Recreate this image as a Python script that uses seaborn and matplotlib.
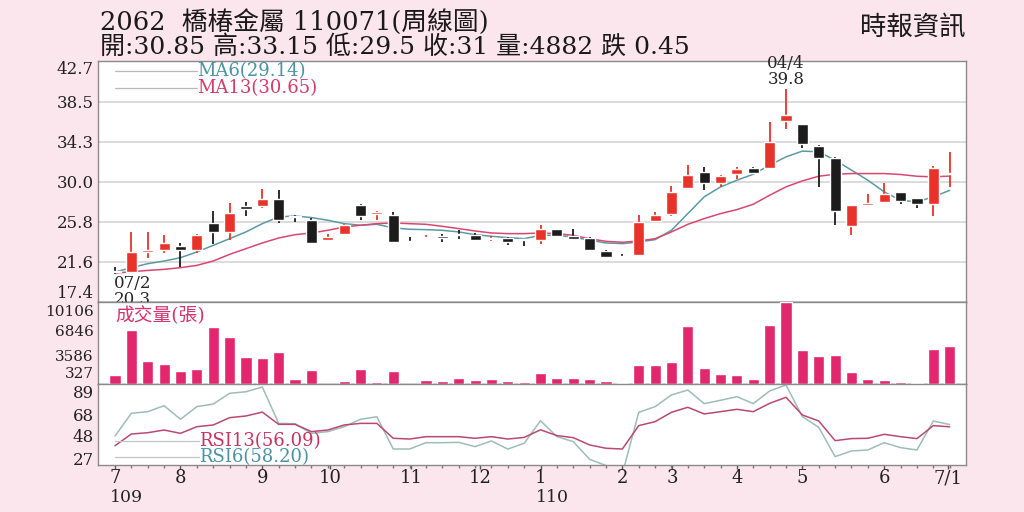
import numpy as np
import pandas as pd
import seaborn as sns
import matplotlib.pyplot as plt
import matplotlib.transforms as mtransforms

# weekly candles 109/07 ~ 110/07
opens = [20.65, 20.55, 22.70, 22.90, 23.25, 22.83, 25.75, 24.77, 27.47, 27.47,
         28.28, 26.40, 26.00, 23.96, 24.52, 27.58, 26.63, 26.59, 23.78, 24.10,
         24.24, 24.52, 24.49, 24.03, 24.13, 23.96, 23.89, 25.12, 24.34, 24.13,
         22.73, 22.20, 22.38, 25.89, 26.63, 29.40, 31.06, 29.93, 30.84, 31.51,
         31.51, 36.47, 36.08, 33.83, 32.57, 25.36, 27.65, 27.93, 28.98, 28.35,
         27.68, 30.85]
highs = [21.10, 24.77, 24.77, 24.41, 23.61, 24.59, 26.98, 27.82, 27.93, 29.33,
         29.23, 26.60, 26.20, 24.52, 25.65, 27.68, 26.94, 26.84, 24.24, 24.49,
         24.60, 24.94, 24.66, 24.35, 24.24, 23.96, 25.47, 25.12, 25.12, 24.24,
         22.90, 22.40, 26.52, 26.87, 29.58, 31.79, 31.62, 30.81, 31.62, 31.62,
         36.36, 39.80, 36.08, 33.90, 32.67, 27.65, 28.74, 29.93, 28.98, 28.35,
         31.72, 33.15]
lows = [20.30, 20.45, 22.06, 22.55, 21.08, 22.59, 23.54, 23.89, 26.45, 27.33,
        25.71, 25.80, 23.60, 23.82, 24.41, 26.00, 26.00, 23.60, 23.70, 23.99,
        23.70, 24.06, 23.89, 23.82, 23.36, 23.26, 23.47, 24.24, 23.96, 22.76,
        22.06, 22.02, 22.30, 25.82, 26.42, 29.33, 29.16, 29.51, 30.39, 30.91,
        31.44, 35.55, 33.62, 29.51, 25.54, 24.41, 27.58, 27.86, 27.75, 27.33,
        26.45, 29.50]
closes = [20.55, 22.66, 22.90, 23.61, 22.83, 24.41, 24.77, 26.77, 27.19, 28.28,
          26.07, 26.30, 23.64, 24.24, 25.47, 26.45, 26.84, 23.71, 23.73, 24.24,
          24.17, 24.45, 23.96, 24.17, 23.71, 23.89, 25.12, 24.34, 24.03, 22.83,
          22.13, 22.13, 25.82, 26.52, 28.98, 30.81, 29.93, 30.63, 31.34, 30.98,
          34.25, 37.06, 33.97, 32.57, 26.94, 27.65, 27.86, 28.74, 28.03, 27.68,
          31.45, 31.00]

ma6 = [20.55, 21.01, 21.43, 21.71, 22.06, 22.66, 23.36, 24.06, 24.77, 25.64,
       26.35, 26.45, 26.28, 26.00, 25.64, 25.47, 25.57, 25.19, 25.05, 25.01,
       24.94, 24.77, 24.48, 24.31, 24.17, 24.06, 24.41, 24.41, 24.24, 23.89,
       23.61, 23.54, 23.71, 23.96, 24.94, 26.70, 28.46, 29.51, 30.21, 30.84,
       31.79, 32.67, 33.27, 33.20, 32.32, 31.27, 30.21, 28.98, 28.10, 27.93,
       28.46, 29.14]
ma13 = [20.44, 20.58, 20.72, 20.83, 21.01, 21.25, 21.71, 22.41, 23.01, 23.61,
        24.13, 24.48, 24.66, 24.94, 25.29, 25.47, 25.64, 25.71, 25.64, 25.57,
        25.36, 25.12, 24.87, 24.66, 24.59, 24.59, 24.66, 24.59, 24.41, 24.06,
        23.78, 23.68, 23.82, 24.06, 24.77, 25.57, 26.17, 26.70, 27.12, 27.68,
        28.63, 29.51, 30.14, 30.63, 30.84, 30.91, 30.91, 30.91, 30.81, 30.63,
        30.56, 30.65]

volume = [1110, 6870, 2944, 2517, 1664, 1963, 7253, 6059, 3456, 3285,
          4096, 597, 1792, 20, 427, 1877, 299, 1621, 40, 512,
          427, 768, 512, 683, 384, 213, 1408, 725, 768, 597,
          384, 128, 2432, 2432, 2773, 7467, 2091, 1323, 1152, 597,
          7509, 10450, 4352, 3627, 3755, 1493, 683, 555, 299, 128,
          4480, 4882]

rsi6 = [47.5, 68.7, 70.2, 75.8, 63.1, 74.9, 77.3, 87.3, 88.8, 93.2,
        59.3, 59.0, 50.0, 51.6, 56.2, 63.1, 65.5, 35.4, 35.4, 41.3,
        41.3, 41.6, 37.6, 42.9, 35.4, 40.7, 61.8, 46.9, 42.3, 25.8,
        20.0, 12.0, 69.6, 74.9, 85.8, 90.4, 77.7, 80.8, 84.2, 77.7,
        89.5, 95.1, 65.6, 55.6, 28.3, 33.6, 34.5, 41.3, 36.7, 34.5,
        61.5, 58.2]
rsi13 = [38.5, 49.4, 50.6, 53.1, 50.0, 56.2, 57.8, 64.6, 66.2, 69.8,
         58.4, 58.4, 51.6, 53.1, 57.8, 59.3, 59.3, 45.4, 44.7, 46.9,
         46.9, 46.9, 45.4, 46.9, 44.7, 46.2, 53.3, 47.9, 46.0, 39.2,
         36.1, 35.4, 57.2, 60.9, 69.6, 74.3, 68.1, 70.2, 72.4, 70.2,
         78.0, 83.6, 67.1, 61.5, 43.2, 45.1, 45.4, 49.1, 46.9, 45.1,
         57.2, 56.09]

price_ticks = [17.4, 21.62, 25.83, 30.05, 34.27, 38.48, 42.7]
price_labels = ["17.4", "21.6", "25.8", "30.0", "34.3", "38.5", "42.7"]
vol_ticks = [327, 3586, 6846, 10106]
rsi_ticks = [27, 48, 68, 89]
month_pos = [0, 4, 9, 13.15, 18.1, 22.3, 26, 31, 34.05, 38, 42, 47, 50.9]
month_labels = ["7", "8", "9", "10", "11", "12", "1", "2", "3", "4", "5", "6", "7/1"]

df = pd.DataFrame({"idx": np.arange(len(closes)), "open": opens, "high": highs,
                   "low": lows, "close": closes, "ma6": ma6, "ma13": ma13,
                   "vol": volume, "rsi6": rsi6, "rsi13": rsi13})

sns.set_theme(style="white")
plt.rcParams['font.family'] = ['DejaVu Serif', 'Noto Sans CJK TC']

bg = '#fce6ee'
red = '#e8332a'
blk = '#1c1c1c'
pink = '#e2276e'
frame = '#8a8a8a'

fig = plt.figure(figsize=(10.24, 5.12), dpi=100, facecolor=bg)
ax1 = fig.add_axes([0.0957, 0.4102, 0.8477, 0.4697])
ax2 = fig.add_axes([0.0957, 0.2500, 0.8477, 0.1602], sharex=ax1)
ax3 = fig.add_axes([0.0957, 0.0918, 0.8477, 0.1582], sharex=ax1)

# candles
up = df.close >= df.open
cols = np.where(up, red, blk)
ax1.vlines(df.idx, df.low, df.high, colors=cols, lw=1.3, zorder=3)
body_lo = np.minimum(df.open, df.close)
body_h = np.maximum(np.abs(df.close - df.open), 0.12)
ax1.bar(df.idx, body_h, bottom=body_lo, width=0.68, color=cols, zorder=4)

sns.lineplot(data=df, x="idx", y="ma6", ax=ax1, color='#5a9aa5', lw=1.1, zorder=2)
sns.lineplot(data=df, x="idx", y="ma13", ax=ax1, color='#d9476f', lw=1.1, zorder=2)

ax1.set_ylim(17.4, 42.7)
ax1.set_yticks(price_ticks)
ax1.set_yticklabels(price_labels)
ax1.grid(axis='y', color='#dcdcdc', lw=1.4)
ax1.grid(axis='x', visible=False)

# legend-like labels
for yy, txt, c in [(0.9605, "MA6(29.14)", '#4b93a3'), (0.8898, "MA13(30.65)", '#d43a6a')]:
    ax1.plot([0.0196, 0.114], [yy, yy], transform=ax1.transAxes, color='#b8b8b8', lw=0.9)
    ax1.text(0.114, yy, txt, transform=ax1.transAxes, color=c, fontsize=13, va='center')

imax = int(np.argmax(highs))
ax1.text(imax, max(highs) + 0.1, "04/4\n39.8", ha='center', va='bottom', fontsize=12,
         linespacing=0.95, clip_on=False, zorder=6)
imin = int(np.argmin(lows))
ax1.text(imin - 0.1, min(lows) - 0.1, "07/2\n20.3", ha='left', va='top', fontsize=12,
         linespacing=0.9, clip_on=False, zorder=6)

# volume
sns.barplot(data=df, x="idx", y="vol", ax=ax2, native_scale=True, width=0.68,
            color=pink, saturation=1, zorder=3)
ax2.set_ylim(0, 10500)
ax2.set_yticks(vol_ticks)
ax2.set_yticklabels([str(v) for v in vol_ticks])
ax2.text(0.0196, 0.83, "成交量(張)", transform=ax2.transAxes, color='#d6336c',
         fontsize=13.5, va='center', family=['DejaVu Serif', 'Noto Sans CJK TC'])

# rsi
sns.lineplot(data=df, x="idx", y="rsi6", ax=ax3, color='#9dbdb8', lw=1.1)
sns.lineplot(data=df, x="idx", y="rsi13", ax=ax3, color='#b94a6e', lw=1.1)
ax3.set_ylim(20.5, 96)
ax3.set_yticks(rsi_ticks)
for yy, txt, c in [(0.30, "RSI13(56.09)", '#c8325f'), (0.095, "RSI6(58.20)", '#4b93a3')]:
    ax3.plot([0.0196, 0.116], [yy, yy], transform=ax3.transAxes, color='#c4c4c4', lw=0.9)
    ax3.text(0.116, yy, txt, transform=ax3.transAxes, color=c, fontsize=13, va='center')

ax3.set_xlim(-1.04, 52.0)
ax3.set_xticks(month_pos)
ax3.set_xticklabels(month_labels)
ax3.set_xticks(df.idx, minor=True)
trans = mtransforms.blended_transform_factory(ax3.transData, ax3.transAxes)
ax3.text(-0.3, -0.40, "109", transform=trans, ha='left', va='center', fontsize=12.5)
ax3.text(25.7, -0.40, "110", transform=trans, ha='left', va='center', fontsize=12.5)

for ax in (ax1, ax2, ax3):
    ax.set_facecolor('white')
    ax.set_xlabel("")
    ax.set_ylabel("")
    ax.tick_params(axis='y', length=0, pad=3, labelsize=12, labelcolor='#222222')
    for s in ax.spines.values():
        s.set_color(frame)
        s.set_linewidth(1.0)
ax2.tick_params(axis='y', labelsize=11)
ax1.tick_params(axis='x', which='both', length=0, labelbottom=False)
ax2.tick_params(axis='x', which='both', length=0, labelbottom=False)
ax1.spines['bottom'].set_color('#555555')
ax2.spines['bottom'].set_color('#555555')
ax3.tick_params(axis='x', which='major', length=3, width=1, color='#555555',
                labelsize=13, pad=0, labelcolor='#222222', bottom=True)
ax3.tick_params(axis='x', which='minor', length=2, width=1, color='#777777', bottom=True)

# keep the edge labels inside their own panel
ax1.yaxis.get_major_ticks()[0].label1.set_verticalalignment('bottom')
ax1.yaxis.get_major_ticks()[-1].label1.set_verticalalignment('top')
ax2.yaxis.get_major_ticks()[-1].label1.set_verticalalignment('top')
ax2.yaxis.get_major_ticks()[0].label1.set_verticalalignment('bottom')

# header
fig.text(100 / 1024, 1 - 22 / 512, "2062  橋椿金屬 110071(周線圖)", fontsize=18.5,
         va='center', ha='left', color='#1a1a1a')
fig.text(100 / 1024, 1 - 47 / 512, "開:30.85 高:33.15 低:29.5 收:31 量:4882 跌 0.45",
         fontsize=18, va='center', ha='left', color='#1a1a1a')
fig.text(965 / 1024, 1 - 27 / 512, "時報資訊", fontsize=19, va='center', ha='right',
         color='#1a1a1a')

fig.savefig("out.png", dpi=100, facecolor=bg)
